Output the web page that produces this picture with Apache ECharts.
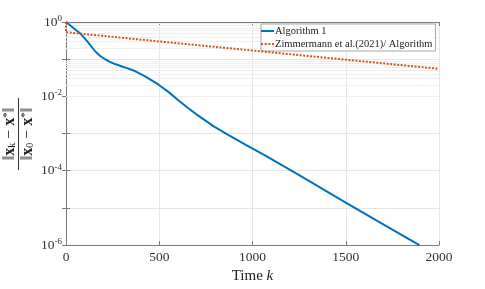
<!DOCTYPE html>
<html>
<head>
<meta charset="utf-8">
<script src="https://cdn.jsdelivr.net/npm/echarts@6/dist/echarts.min.js"></script>
<style>html,body{margin:0;padding:0;background:#fff;}#c{width:485px;height:289px;}</style>
</head>
<body>
<div id="c"></div>
<script>
// ---- data ----
const xTicks = [0, 500, 1000, 1500, 2000];
const seriesNames = ['Algorithm 1', 'Zimmermann et al.(2021)/ Algorithm'];
const algoK   = [0, 40, 75, 110, 155, 185, 209, 235, 263, 316, 370, 424, 495, 549, 602, 656, 701, 750, 790, 879, 969, 1067, 1250, 1500, 1750, 1895];
const algoVal = [1, 0.69, 0.50, 0.32, 0.166, 0.120, 0.100, 0.085, 0.074, 0.060, 0.048, 0.0347, 0.0209, 0.0132, 0.0079, 0.0048, 0.00324, 0.00219, 0.00158, 8.7e-4, 4.8e-4, 2.57e-4, 7.6e-5, 1.38e-5, 2.6e-6, 1.0e-6];
const zimK    = [0, 0, 500, 1000, 1500, 2000];
const zimVal  = [1, 0.53, 0.30, 0.171, 0.097, 0.055];
const yDecades = [-6, -5, -4, -3, -2, -1, 0];

const minorVals = [];
yDecades.slice(0, -1).forEach(e => { for (let m = 2; m <= 9; m++) minorVals.push(m * Math.pow(10, e)); });

const serif = "'Liberation Serif', 'DejaVu Serif', serif";
const axisCol = '#7a7a7a';
const gridCol = '#e6e6e6';

const chart = echarts.init(document.getElementById('c'), null, {renderer: 'canvas'});
chart.setOption({
  animation: false,
  backgroundColor: '#fff',
  grid: {left: 66, right: 46, top: 22, bottom: 39},
  legend: {
    orient: 'vertical', left: 261, top: 24, align: 'left',
    padding: [1, 3, 1, 0], itemGap: 1, itemWidth: 13, itemHeight: 2,
    borderColor: '#a8a8a8', borderWidth: 1, backgroundColor: '#fff',
    textStyle: {fontFamily: serif, fontSize: 10.5, color: '#222', padding: [0, 0, 0, -4], lineHeight: 12},
    data: [
      {name: seriesNames[0], icon: 'path://M0,0H13V2H0Z'},
      {name: seriesNames[1], icon: 'path://M0,0H2V2H0Z M3.7,0H5.7V2H3.7Z M7.4,0H9.4V2H7.4Z M11,0H13V2H11Z'}
    ]
  },
  xAxis: [{
    type: 'value', min: xTicks[0], max: xTicks[xTicks.length - 1], interval: 500,
    axisLine: {show: true, lineStyle: {color: axisCol}},
    axisTick: {show: true, inside: true, length: 4, lineStyle: {color: axisCol}},
    axisLabel: {fontFamily: serif, fontSize: 13.5, color: '#333', margin: 5, formatter: v => String(v)},
    splitLine: {show: true, lineStyle: {color: gridCol}},
    name: '{t|Time }{i|k}', nameLocation: 'middle', nameGap: 20,
    nameTextStyle: {rich: {t: {fontFamily: serif, fontSize: 15, color: '#222'}, i: {fontFamily: serif, fontSize: 15, fontStyle: 'italic', color: '#222'}}}
  }, {
    type: 'value', position: 'top', min: xTicks[0], max: xTicks[xTicks.length - 1], interval: 500,
    axisLine: {show: true, lineStyle: {color: axisCol}},
    axisTick: {show: true, inside: true, length: 4, lineStyle: {color: axisCol}},
    axisLabel: {show: false}, splitLine: {show: false}
  }],
  yAxis: [{
    type: 'log', logBase: 10, min: 1e-6, max: 1, interval: 1,
    axisLine: {show: true, lineStyle: {color: axisCol}},
    axisTick: {show: true, inside: true, length: 4, lineStyle: {color: axisCol}},
    splitLine: {show: true, lineStyle: {color: gridCol}},
    axisLabel: {
      margin: 4,
      formatter: function (v) {
        const e = Math.round(Math.log10(v));
        if (e % 2 !== 0) return '';
        return '{b|10}{s|' + e + '}';
      },
      rich: {
        b: {fontFamily: serif, fontSize: 13.5, color: '#333', lineHeight: 16},
        s: {fontFamily: serif, fontSize: 9, color: '#333', verticalAlign: 'top', lineHeight: 16, padding: [0, 0, 9, 0]}
      }
    }
  }, {
    type: 'log', logBase: 10, min: 1e-6, max: 1, interval: 1, position: 'right',
    axisLine: {show: true, lineStyle: {color: axisCol}},
    axisTick: {show: true, inside: true, length: 4, lineStyle: {color: axisCol}},
    axisLabel: {show: false}, splitLine: {show: false}
  }],
  series: [{
    name: seriesNames[0], type: 'line', showSymbol: false, symbol: 'none',
    data: algoK.map((k, i) => [k, algoVal[i]]),
    lineStyle: {color: '#0072BD', width: 2},
    itemStyle: {color: '#0072BD'},
    z: 3,
    markLine: {
      silent: true, symbol: 'none', label: {show: false},
      lineStyle: {color: '#efefef', width: 1, type: 'solid'},
      data: minorVals.map(v => ({yAxis: v})),
      z: 1
    }
  }, {
    name: seriesNames[1], type: 'line', showSymbol: false, symbol: 'none',
    data: zimK.map((k, i) => [k, zimVal[i]]),
    lineStyle: {color: '#D95319', width: 2, type: [2, 1.5]},
    itemStyle: {color: '#D95319'},
    z: 4
  }],
  graphic: [{
    type: 'group', x: 18.5, y: 134, rotation: Math.PI / 2,
    children: [{
      type: 'line', shape: {x1: -36, y1: 0, x2: 36, y2: 0},
      style: {stroke: '#333', lineWidth: 1}
    }, {
      type: 'text', x: 0, y: -1,
      style: {
        text: '{n|‖}{b|x}{u|k}{n| − }{b|x}{p|*}{n|‖}',
        align: 'center', verticalAlign: 'bottom',
        rich: {
          n: {fontFamily: serif, fontSize: 16, fill: '#222'},
          b: {fontFamily: serif, fontSize: 16, fontWeight: 'bold', fill: '#222'},
          u: {fontFamily: serif, fontSize: 10, fill: '#222', verticalAlign: 'bottom'},
          p: {fontFamily: serif, fontSize: 11, fill: '#222', verticalAlign: 'top'}
        }
      }
    }, {
      type: 'text', x: 0, y: 1,
      style: {
        text: '{n|‖}{b|x}{u|0}{n| − }{b|x}{p|*}{n|‖}',
        align: 'center', verticalAlign: 'top',
        rich: {
          n: {fontFamily: serif, fontSize: 16, fill: '#222'},
          b: {fontFamily: serif, fontSize: 16, fontWeight: 'bold', fill: '#222'},
          u: {fontFamily: serif, fontSize: 10, fill: '#222', verticalAlign: 'bottom'},
          p: {fontFamily: serif, fontSize: 11, fill: '#222', verticalAlign: 'top'}
        }
      }
    }]
  }]
});
</script>
</body>
</html>
